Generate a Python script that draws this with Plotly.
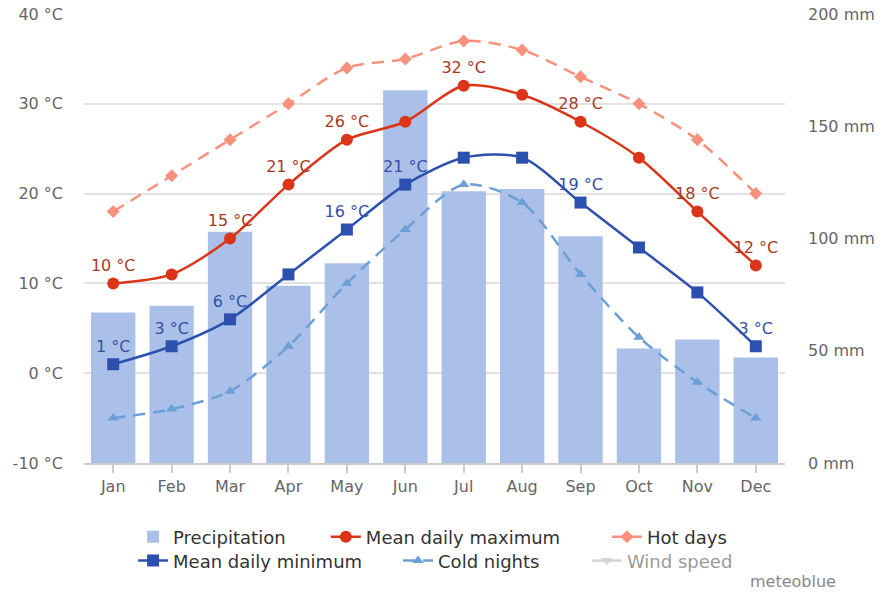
import plotly.graph_objects as go

months = ["Jan", "Feb", "Mar", "Apr", "May", "Jun", "Jul", "Aug", "Sep", "Oct", "Nov", "Dec"]
precipitation_mm = [67, 70, 103, 79, 89, 166, 121, 122, 101, 51, 55, 47]
mean_daily_max = [10, 11, 15, 21, 26, 28, 32, 31, 28, 24, 18, 12]
mean_daily_min = [1, 3, 6, 11, 16, 21, 24, 24, 19, 14, 9, 3]
hot_days = [18, 22, 26, 30, 34, 35, 37, 36, 33, 30, 26, 20]
cold_nights = [-5, -4, -2, 3, 10, 16, 21, 19, 11, 4, -1, -5]
wind_speed = [None] * 12  # series hidden in the reference (legend only)
max_labels = ["10 °C", "", "15 °C", "21 °C", "26 °C", "", "32 °C", "", "28 °C", "", "18 °C", "12 °C"]
min_labels = ["1 °C", "3 °C", "6 °C", "", "16 °C", "21 °C", "", "", "19 °C", "", "", "3 °C"]
temp_ticks = [-10, 0, 10, 20, 30, 40]
mm_ticks = [0, 50, 100, 150, 200]

FONT = "DejaVu Sans"
C_BAR = "#abc0e8"
C_MAX = "#dc3418"
C_MIN = "#2c50ae"
C_HOT = "#f6927c"
C_COLD = "#6c9fd8"

fig = go.Figure()

fig.add_trace(go.Bar(
    x=months, y=precipitation_mm, name="Precipitation", yaxis="y",
    marker=dict(color=C_BAR, line=dict(width=0)), width=0.76,
    legend="legend", hoverinfo="skip",
))
fig.add_trace(go.Scatter(
    x=months, y=hot_days, name="Hot days", mode="lines+markers", yaxis="y2",
    line=dict(color=C_HOT, width=2.5, dash="12px,8px", shape="spline", smoothing=0.8),
    marker=dict(symbol="diamond", size=10, color=C_HOT),
    legend="legend3", hoverinfo="skip",
))
fig.add_trace(go.Scatter(
    x=months, y=cold_nights, name="Cold nights", mode="lines+markers", yaxis="y2",
    line=dict(color=C_COLD, width=2.5, dash="12px,8px", shape="spline", smoothing=0.8),
    marker=dict(symbol="triangle-up", size=10, color=C_COLD),
    legend="legend5", hoverinfo="skip",
))
fig.add_trace(go.Scatter(
    x=months, y=mean_daily_max, name="Mean daily maximum", mode="lines+markers+text", yaxis="y2",
    line=dict(color=C_MAX, width=2.5, shape="spline", smoothing=0.8),
    marker=dict(symbol="circle", size=12, color=C_MAX),
    text=max_labels, textposition="top center",
    textfont=dict(family=FONT, size=16, color="#a63a1f"),
    legend="legend2", hoverinfo="skip",
))
fig.add_trace(go.Scatter(
    x=months, y=mean_daily_min, name="Mean daily minimum", mode="lines+markers+text", yaxis="y2",
    line=dict(color=C_MIN, width=2.5, shape="spline", smoothing=0.8),
    marker=dict(symbol="square", size=12, color=C_MIN),
    text=min_labels, textposition="top center",
    textfont=dict(family=FONT, size=16, color="#3550a8"),
    legend="legend4", hoverinfo="skip",
))
fig.add_trace(go.Scatter(
    x=months, y=wind_speed, name="Wind speed", mode="lines+markers", yaxis="y2",
    visible="legendonly",
    line=dict(color="#aaaaaa", width=2.5),
    marker=dict(symbol="triangle-down", size=10, color="#aaaaaa"),
    legend="legend6", hoverinfo="skip",
))

def leg(x, y):
    return dict(orientation="h", x=x, y=y, xanchor="left", yanchor="middle",
                font=dict(family=FONT, size=18, color="#333333"),
                bgcolor="rgba(0,0,0,0)", borderwidth=0)

r1, r2 = -0.165, -0.218
fig.update_layout(
    width=882, height=592,
    margin=dict(l=84, r=97, t=14, b=129, autoexpand=False),
    paper_bgcolor="white", plot_bgcolor="white",
    font=dict(family=FONT, size=16, color="#666666"),
    showlegend=True,
    legend=leg(0.07, r1),
    legend2=leg(0.345, r1),
    legend3=leg(0.746, r1),
    legend4=leg(0.07, r2),
    legend5=leg(0.448, r2),
    legend6=leg(0.7175, r2),
    xaxis=dict(
        type="category", range=[-0.5, 11.5], showgrid=False,
        showline=True, linecolor="#cccccc", linewidth=1.5,
        ticks="outside", ticklen=8, tickcolor="#cccccc", tickwidth=1.5,
        tickfont=dict(family=FONT, size=16, color="#666666"),
    ),
    yaxis=dict(
        range=[0, 200], tickvals=mm_ticks, ticktext=[f"{v} mm" for v in mm_ticks],
        side="right", showgrid=False, zeroline=False,
        ticklabelstandoff=22,
        tickfont=dict(family=FONT, size=16, color="#666666"),
    ),
    yaxis2=dict(
        range=[-10, 40], tickvals=temp_ticks, ticktext=[f"{v} °C" for v in temp_ticks],
        overlaying="y", side="left",
        showgrid=True, gridcolor="#e2e2e2", gridwidth=1.5, zeroline=False,
        ticklabelstandoff=20,
        tickfont=dict(family=FONT, size=16, color="#666666"),
    ),
    annotations=[dict(
        text="meteoblue", xref="paper", yref="paper", x=1.0756, y=-0.265,
        xanchor="right", yanchor="middle", showarrow=False,
        font=dict(family=FONT, size=16, color="#888888"),
    )],
)

fig.write_html("out.html", config={"displayModeBar": False},
               post_script="document.body.style.margin='0';")
